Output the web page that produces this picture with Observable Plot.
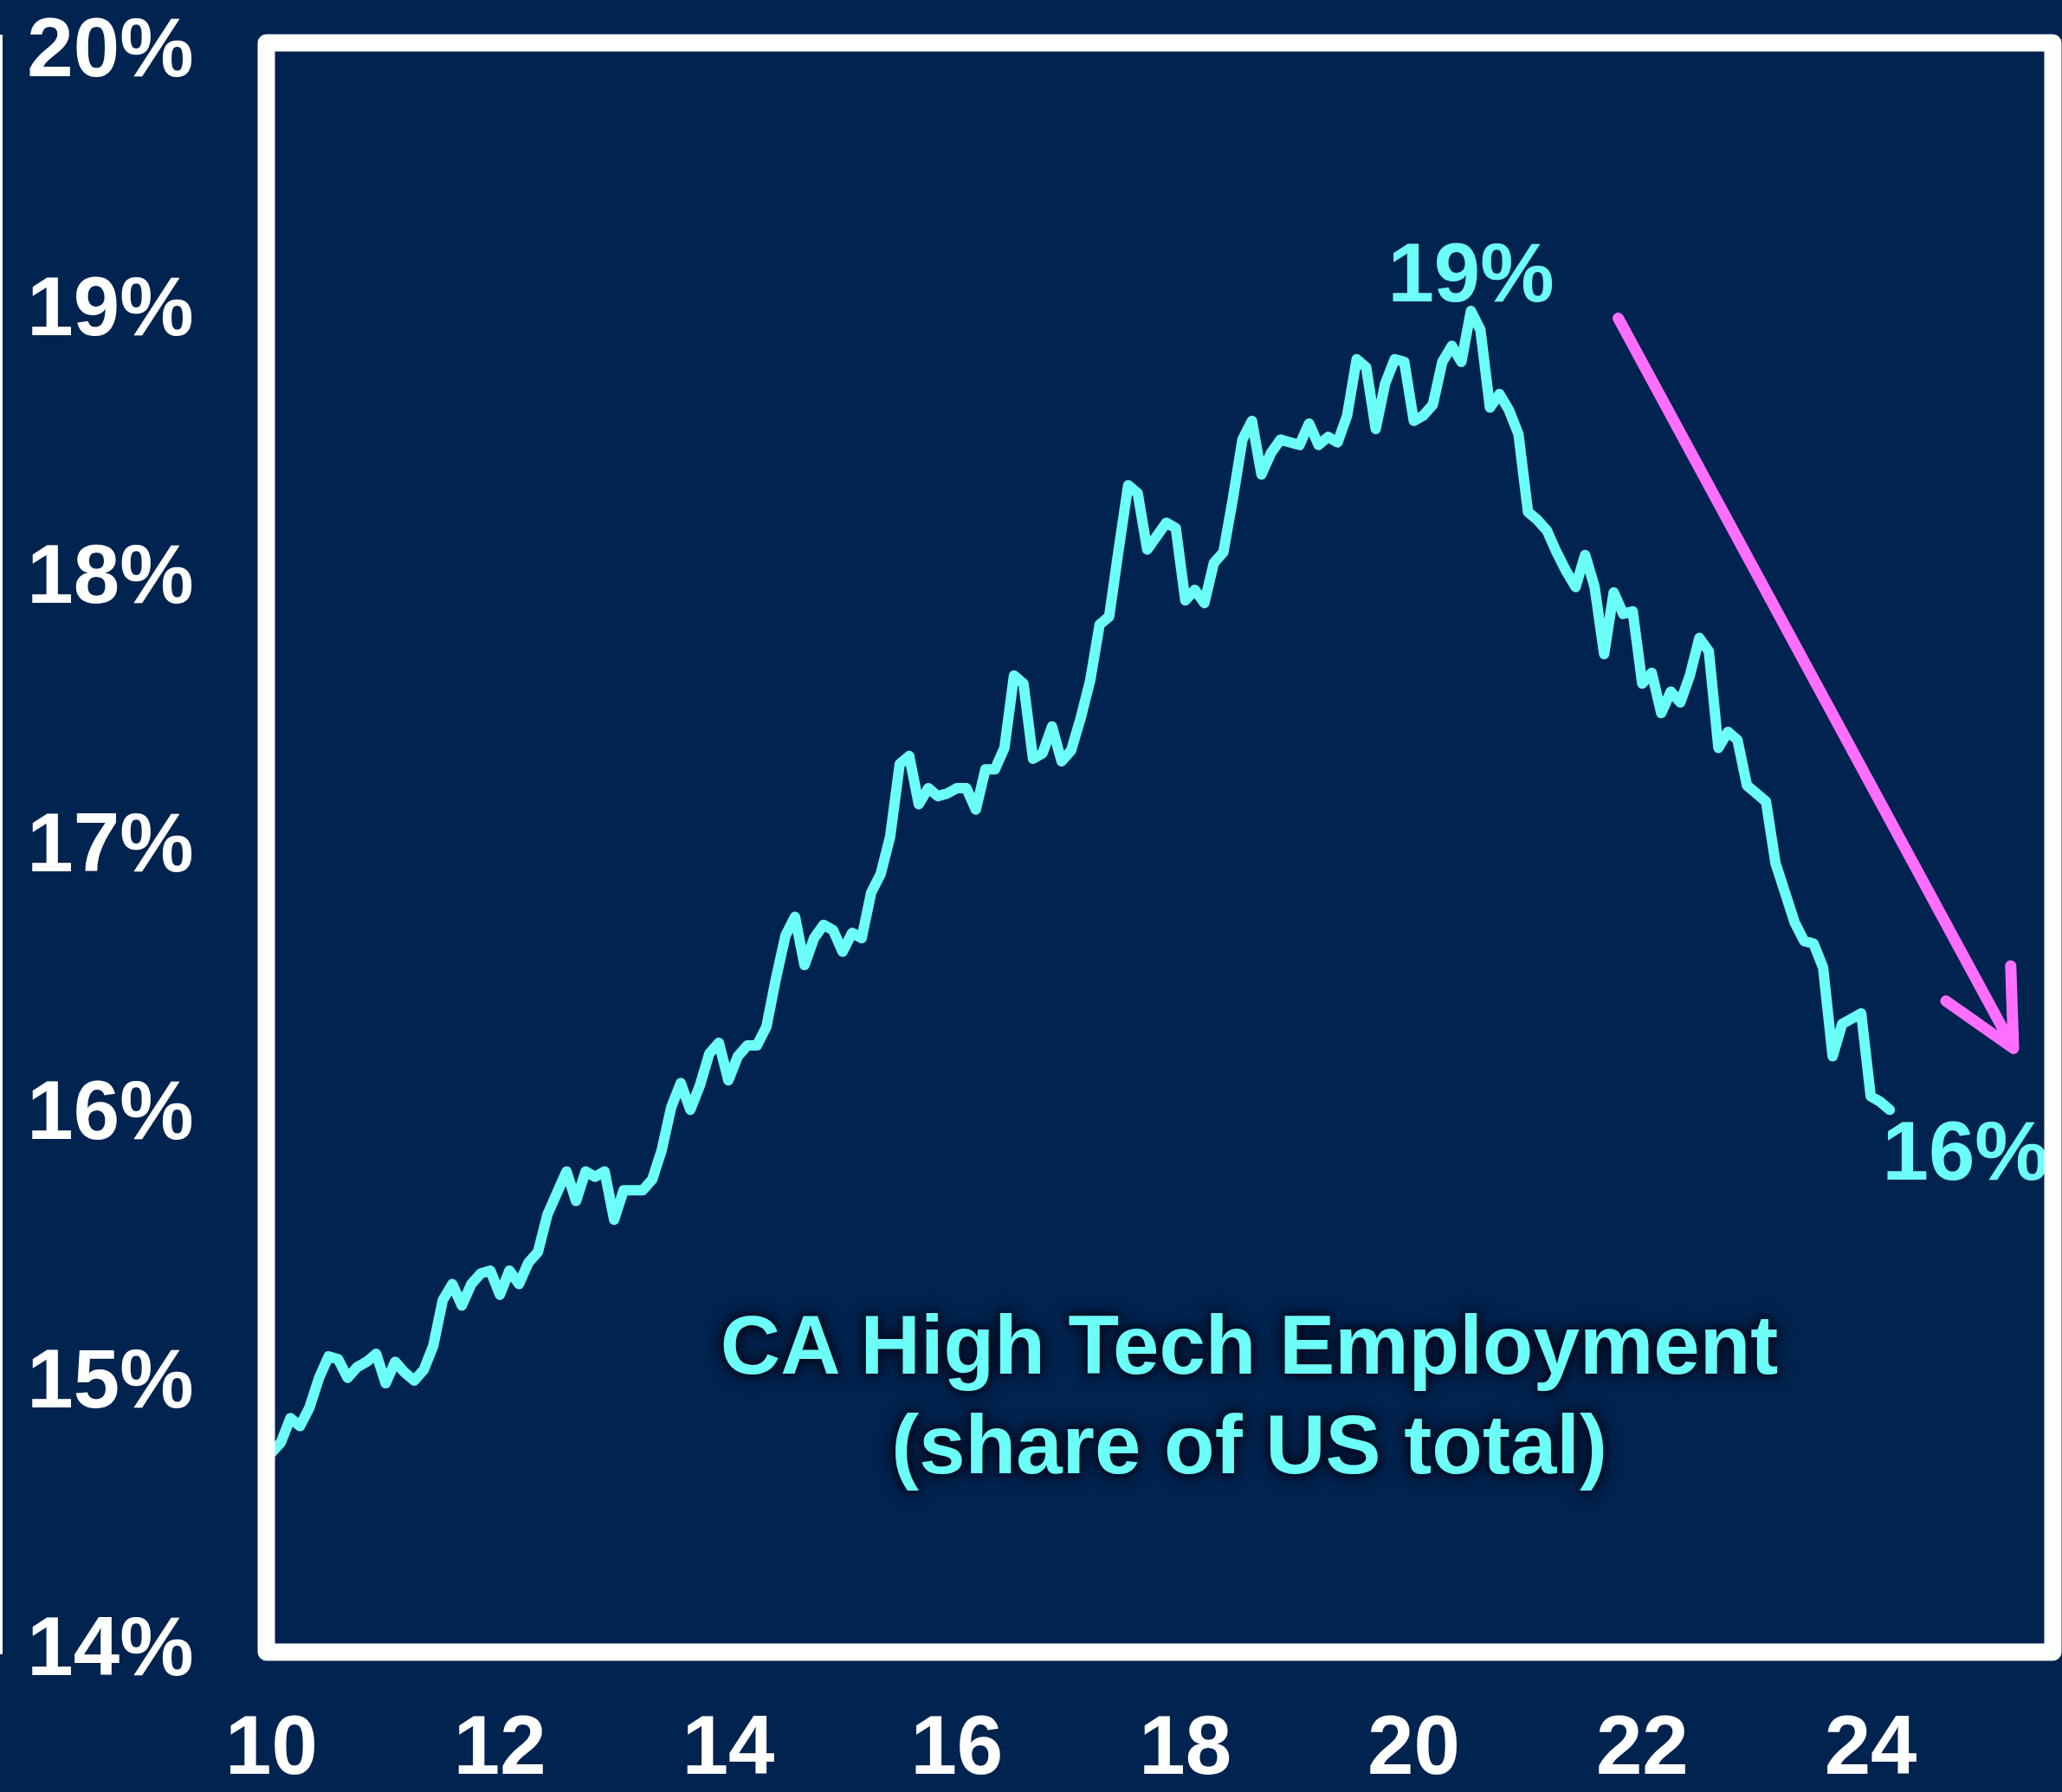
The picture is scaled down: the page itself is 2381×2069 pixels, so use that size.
<!DOCTYPE html>
<html><head><meta charset="utf-8">
<script src="https://cdn.jsdelivr.net/npm/d3@7"></script>
<script src="https://cdn.jsdelivr.net/npm/@observablehq/plot@0.6"></script>
<style>
html,body{margin:0;padding:0;background:#01234f;}
#chart{position:relative;width:2381px;height:2069px;overflow:hidden;}
#edge{position:absolute;left:0;top:40px;width:3px;height:1870px;background:#fff;}
</style></head><body><div id="chart"><div id="edge"></div></div>
<script>
// CA high tech employment, share of US total (%), monthly from Jan 2010
const startYear = 2010;
const share2010 = [14.73,14.77,14.86,14.83,14.90,15.01,15.09,15.08,15.01,15.05,15.07,15.10];
const share2011 = [14.99,15.07,15.03,15.00,15.04,15.13,15.30,15.36,15.28,15.36,15.40,15.41];
const share2012 = [15.32,15.41,15.36,15.44,15.48,15.62,15.70,15.78,15.67,15.78,15.76,15.78];
const share2013 = [15.60,15.71,15.71,15.71,15.75,15.86,16.02,16.11,16.01,16.10,16.22,16.26];
const share2014 = [16.12,16.21,16.25,16.25,16.32,16.50,16.66,16.73,16.55,16.65,16.70,16.68];
const share2015 = [16.60,16.67,16.65,16.82,16.89,17.03,17.30,17.33,17.15,17.21,17.18,17.19];
const share2016 = [17.21,17.21,17.13,17.28,17.28,17.36,17.63,17.60,17.32,17.34,17.44,17.31];
const share2017 = [17.35,17.47,17.61,17.82,17.85,18.10,18.34,18.31,18.10,18.15,18.20,18.18];
const share2018 = [17.91,17.95,17.90,18.05,18.09,18.29,18.51,18.58,18.38,18.46,18.51,18.50];
const share2019 = [18.49,18.57,18.49,18.52,18.50,18.60,18.81,18.78,18.55,18.72,18.81,18.80];
const share2020 = [18.58,18.60,18.64,18.80,18.86,18.80,18.99,18.92,18.63,18.68,18.62,18.53];
const share2021 = [18.24,18.21,18.17,18.09,18.02,17.96,18.08,17.96,17.71,17.94,17.86,17.87];
const share2022 = [17.60,17.64,17.49,17.57,17.53,17.63,17.77,17.72,17.36,17.42,17.39,17.22];
const share2023 = [17.19,17.16,16.93,16.82,16.71,16.64,16.63,16.54,16.21,16.33,16.35,16.37];
const share2024 = [16.06,16.04,16.01];

const xTicks = [2010,2012,2014,2016,2018,2020,2022,2024];
const xTickLabels = ["10","12","14","16","18","20","22","24"];
const yTicks = [14,15,16,17,18,19];
const yTickLabels = ["14%","15%","16%","17%","18%","19%"];
const yTopTick = [20];
const yTopLabel = ["20%"];

// annotations (data units)
const notes = [
  {x: 2020.5, y: 19.125, text: "19%"},
  {x: 2024.83, y: 15.849, text: "16%"}
];
const titleNote = [{x: 2018.56, y: 14.96, text: "CA High Tech Employment\n(share of US total)"}];
const trend = [{x1: 2021.79, y1: 18.963, x2: 2025.25, y2: 16.239}];

const yearly = [share2010,share2011,share2012,share2013,share2014,share2015,share2016,
  share2017,share2018,share2019,share2020,share2021,share2022,share2023,share2024];
const data = yearly.flatMap((arr, k) => arr.map((v, j) => ({date: startYear + k + j / 12, share: v})));

const CYAN = "#6BFFF8";
const PINK = "#FF6EFF";
const FONT = "'Liberation Sans', Arial, Helvetica, sans-serif";
const axisText = {fontSize: 96, fontWeight: "bold", fill: "white", tickSize: 0, label: null};

const chart = Plot.plot({
  width: 2381,
  height: 2069,
  marginLeft: 307,
  marginRight: 11,
  marginTop: 49,
  marginBottom: 162,
  x: {domain: [2009.955, 2025.595]},
  y: {domain: [13.987, 19.990]},
  style: {background: "transparent", color: "white", fontFamily: FONT, overflow: "visible"},
  marks: [
    Plot.axisY(yTicks, {...axisText, tickPadding: 84,
      tickFormat: d => yTickLabels[yTicks.indexOf(d)]}),
    Plot.axisY(yTopTick, {...axisText, tickPadding: 84, dy: 11,
      tickFormat: d => yTopLabel[yTopTick.indexOf(d)]}),
    Plot.axisX(xTicks, {...axisText, tickPadding: 72,
      tickFormat: d => xTickLabels[xTicks.indexOf(d)]}),
    Plot.line(data, {x: "date", y: "share", stroke: CYAN, strokeWidth: 12,
      strokeLinejoin: "round", strokeLinecap: "round"}),
    Plot.arrow(trend, {x1: "x1", y1: "y1", x2: "x2", y2: "y2", stroke: PINK,
      strokeWidth: 13, headLength: 11, headAngle: 53, strokeLinecap: "round"}),
    Plot.text(notes, {x: "x", y: "y", text: "text", fill: CYAN, fontSize: 96,
      fontWeight: "bold"}),
    Plot.text(titleNote, {x: "x", y: "y", text: "text", fill: CYAN, fontSize: 96,
      fontWeight: "bold", lineHeight: 1.2}),
    Plot.frame({stroke: "white", strokeWidth: 20, strokeLinejoin: "round"})
  ]
});

d3.select(chart).selectAll("text")
  .filter(function() { return this.textContent.includes("CA High"); })
  .style("filter", "drop-shadow(0px 0px 5px rgba(0,6,22,1)) drop-shadow(0px 0px 9px rgba(0,6,22,0.9))");

document.getElementById("chart").appendChild(chart);
</script>
</body></html>
